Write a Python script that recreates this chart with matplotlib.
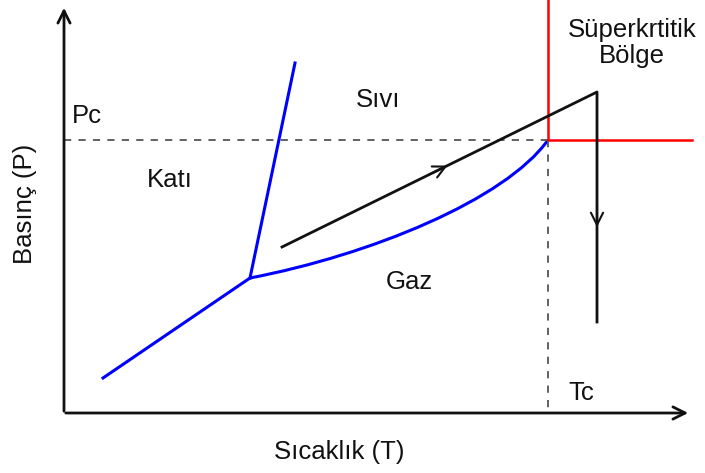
import numpy as np
import matplotlib.pyplot as plt
from matplotlib.path import Path
from matplotlib.patches import PathPatch

plt.rcParams['font.family'] = ['Liberation Sans', 'DejaVu Sans']

# diagram points (pixel-like coordinates, y grows downward)
sublim_x = [103, 250]
sublim_y = [378, 278]
melt_x = [250, 295]
melt_y = [278, 63]
# vaporization curve: cubic bezier from triple point to critical point
vap_pts = [(250, 278), (370, 255), (505, 200), (548, 140)]
crit = (548, 140)
path_x = [282, 597, 597]
path_y = [247, 92, 322]

labels = ["Pc", "Katı", "Sıvı", "Gaz", "Süperkrtitik\nBölge", "Tc"]
label_pos = [(72, 116), (170, 180), (378, 100), (409, 282), (632, 43), (568, 393)]

fig = plt.figure(figsize=(7.05, 4.73), dpi=100)
ax = fig.add_axes([0, 0, 1, 1])
ax.set_xlim(0, 705)
ax.set_ylim(473, 0)
ax.axis('off')

# axes with open arrowheads
ax.annotate("", xy=(64, 5), xytext=(64, 414),
            arrowprops=dict(arrowstyle="->", lw=2, color="#111111", mutation_scale=22))
ax.annotate("", xy=(691, 413), xytext=(63, 413),
            arrowprops=dict(arrowstyle="->", lw=2, color="#111111", mutation_scale=22))

# critical dashed lines
ax.plot([64, crit[0]], [crit[1], crit[1]], ls=(0, (4, 4)), color="#555555", lw=1.3)
ax.plot([crit[0], crit[0]], [crit[1], 413], ls=(0, (4, 4)), color="#555555", lw=1.3)

# supercritical region boundary
ax.plot([crit[0], crit[0], 692], [0, crit[1], crit[1]], color="red", lw=1.8)

# phase boundaries
ax.plot(sublim_x, sublim_y, color="blue", lw=2.2)
ax.plot(melt_x, melt_y, color="blue", lw=2.2)
vap = Path(vap_pts, [Path.MOVETO, Path.CURVE4, Path.CURVE4, Path.CURVE4])
ax.add_patch(PathPatch(vap, fill=False, edgecolor="blue", lw=2.2))

# process path
ax.plot(path_x, path_y, color="#111111", lw=2)
mx = 450
my = path_y[0] + (path_y[1] - path_y[0]) * (mx - path_x[0]) / (path_x[1] - path_x[0])
ax.annotate("", xy=(mx, my), xytext=(mx - 20, my + 9.8),
            arrowprops=dict(arrowstyle="->", lw=1.5, color="#111111", mutation_scale=22))
ax.annotate("", xy=(597, 230), xytext=(597, 200),
            arrowprops=dict(arrowstyle="->", lw=1.5, color="#111111", mutation_scale=22))

for t, (x, y) in zip(labels, label_pos):
    ax.text(x, y, t, fontsize=18.5, ha="left" if t in ("Pc", "Tc") else "center",
            va="center", color="#111111", linespacing=1.15)

ax.text(339, 452, "Sıcaklık (T)", fontsize=18.5, ha="center", va="center", color="#111111")
ax.text(25, 204, "Basınç (P)", fontsize=18.5, ha="center", va="center", rotation=90, color="#111111")

fig.savefig("out.png", dpi=100)
